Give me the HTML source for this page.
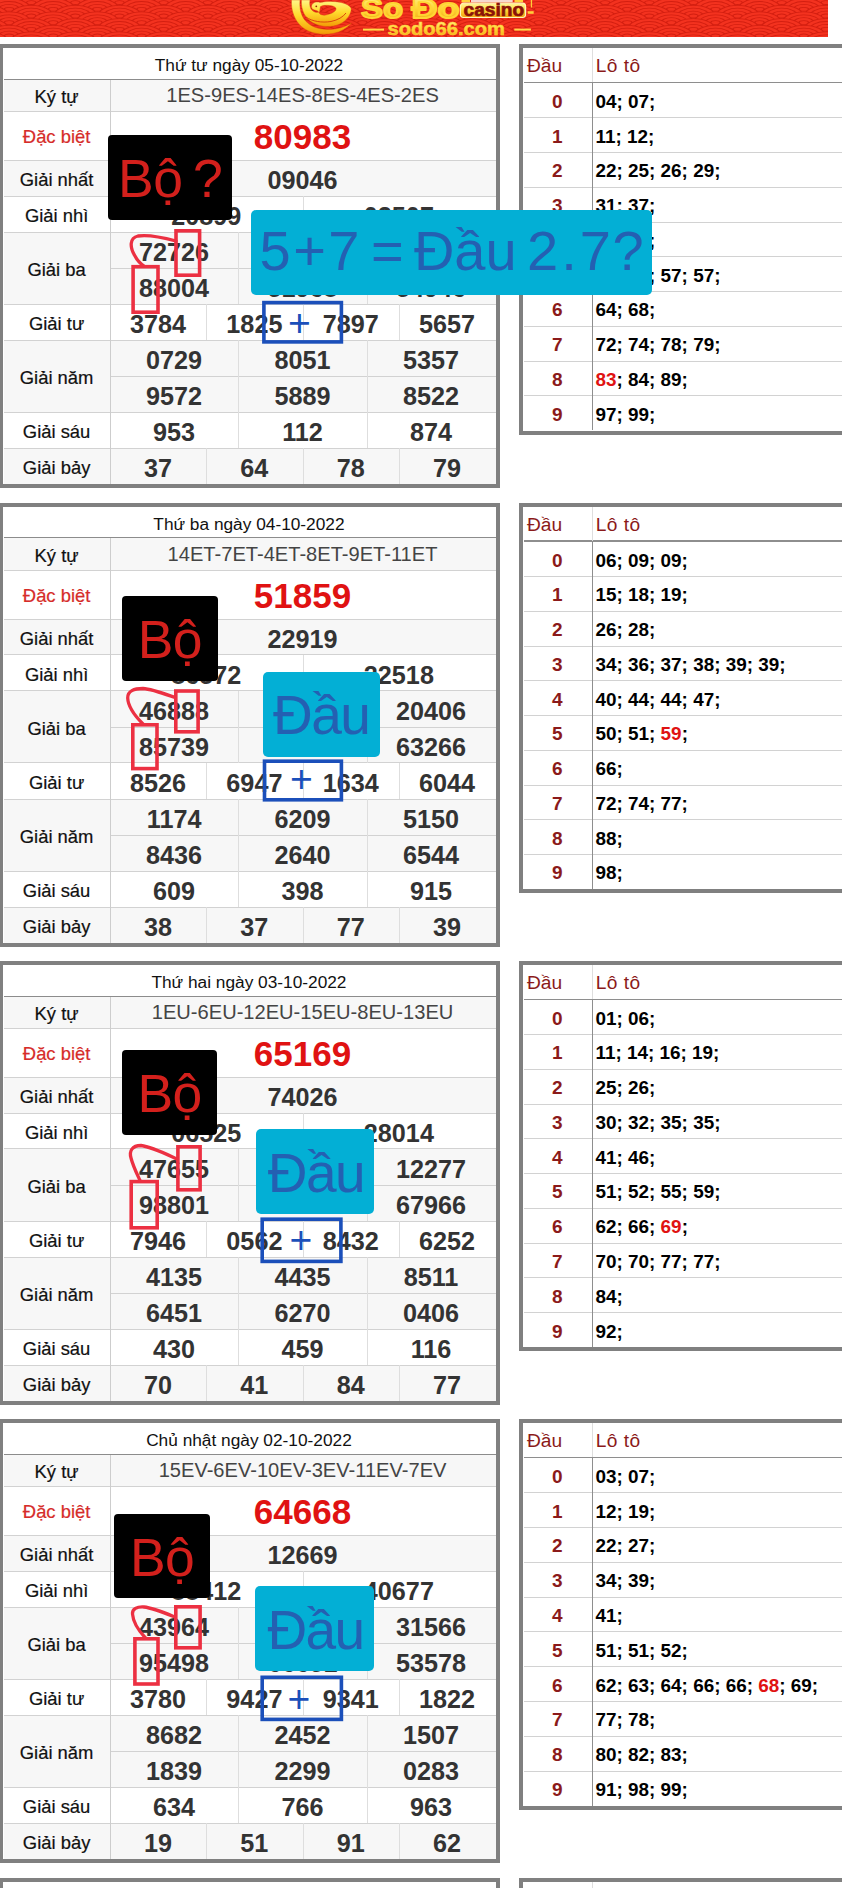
<!DOCTYPE html>
<html lang="vi"><head><meta charset="utf-8"><title>Kết quả xổ số</title>
<style>
html,body{margin:0;padding:0;background:#fff;}
body{font-family:"Liberation Sans",sans-serif;}
#pg{position:relative;width:842px;height:1888px;overflow:hidden;background:#fff;}
#pg div{position:absolute;box-sizing:border-box;white-space:nowrap;}
.fr{border:4px solid #808080;background:#fff;}
.bg{background:#f7f7f7;}
.hl{background:#d2d2d2;}
.vl{background:#dedede;}
.vl.lc{background:#cdcdcd;}
.hl.dk{background:#8c8c8c;}
.dk2{background:#8e8e8e;}
.c{text-align:center;}
.hd{font-size:17.3px;color:#111;}
.lb{font-size:18.4px;color:#111;-webkit-text-stroke:0.2px #111;}
.lb.red{color:#d62c29;-webkit-text-stroke:0.2px #d62c29;}
.kv{font-size:20.1px;color:#444;}
.dbv{font-size:35px;font-weight:bold;color:#e01212;}
.n{font-size:25.2px;font-weight:bold;color:#333;}
.lh{font-size:19.2px;color:#8b1a1a;}
.ld{font-size:19px;font-weight:bold;color:#8b1a1a;}
.lv{font-size:18.9px;font-weight:bold;color:#000;}
.r{color:#e01212;}
.bk{background:#000;border-radius:4px;color:#d3201c;font-size:53.5px;letter-spacing:-0.6px;word-spacing:-3.5px;text-align:center;}
.cy{background:#03afd5;border-radius:5px;color:#2460b2;font-size:55px;letter-spacing:-1.6px;text-align:center;}
.cy.w{font-size:56px;letter-spacing:0;text-align:left;}
.cy span{position:absolute;top:0;}
.bb{color:#1b4fba;font-size:39px;text-align:center;}
.cv{position:absolute;left:0;top:0;}

</style></head><body>
<div id="pg">
<svg class="bn" width="827.700" height="36.500" viewBox="0 0 827.700 36.500" style="position:absolute;left:0;top:0">
<defs>
<g id="sc"><ellipse rx="22.1" ry="11.0" fill="#d31f11"/><ellipse rx="20.7" ry="10.2" fill="#f3321f"/><ellipse rx="16.6" ry="8.1" fill="#d31f11"/><ellipse rx="15.2" ry="7.3" fill="#f3321f"/><ellipse rx="11.0" ry="5.2" fill="#d31f11"/><ellipse rx="9.6" ry="4.4" fill="#f3321f"/><ellipse rx="5.4" ry="2.3" fill="#d31f11"/><ellipse rx="4.0" ry="1.5" fill="#f3321f"/></g>
<linearGradient id="gd" x1="0" y1="0" x2="0" y2="1">
<stop offset="0" stop-color="#fff689"/><stop offset="0.45" stop-color="#ffdc2e"/><stop offset="1" stop-color="#f39a06"/>
</linearGradient>
<linearGradient id="gd2" x1="0" y1="0" x2="0" y2="1">
<stop offset="0" stop-color="#fff9a0"/><stop offset="0.5" stop-color="#ffd736"/><stop offset="1" stop-color="#f0a010"/>
</linearGradient>
</defs>
<rect width="827.700" height="36.500" fill="#f3321f"/>
<g><use href="#sc" x="-12.9" y="-10.7"/><use href="#sc" x="31.2" y="-10.7"/><use href="#sc" x="75.3" y="-10.7"/><use href="#sc" x="119.5" y="-10.7"/><use href="#sc" x="163.7" y="-10.7"/><use href="#sc" x="207.8" y="-10.7"/><use href="#sc" x="252.0" y="-10.7"/><use href="#sc" x="296.1" y="-10.7"/><use href="#sc" x="340.2" y="-10.7"/><use href="#sc" x="384.4" y="-10.7"/><use href="#sc" x="428.5" y="-10.7"/><use href="#sc" x="472.7" y="-10.7"/><use href="#sc" x="516.8" y="-10.7"/><use href="#sc" x="561.0" y="-10.7"/><use href="#sc" x="605.1" y="-10.7"/><use href="#sc" x="649.3" y="-10.7"/><use href="#sc" x="693.4" y="-10.7"/><use href="#sc" x="737.6" y="-10.7"/><use href="#sc" x="781.7" y="-10.7"/><use href="#sc" x="825.9" y="-10.7"/><use href="#sc" x="-35.0" y="-4.1"/><use href="#sc" x="9.1" y="-4.1"/><use href="#sc" x="53.2" y="-4.1"/><use href="#sc" x="97.4" y="-4.1"/><use href="#sc" x="141.6" y="-4.1"/><use href="#sc" x="185.7" y="-4.1"/><use href="#sc" x="229.9" y="-4.1"/><use href="#sc" x="274.0" y="-4.1"/><use href="#sc" x="318.1" y="-4.1"/><use href="#sc" x="362.3" y="-4.1"/><use href="#sc" x="406.4" y="-4.1"/><use href="#sc" x="450.6" y="-4.1"/><use href="#sc" x="494.7" y="-4.1"/><use href="#sc" x="538.9" y="-4.1"/><use href="#sc" x="583.0" y="-4.1"/><use href="#sc" x="627.2" y="-4.1"/><use href="#sc" x="671.3" y="-4.1"/><use href="#sc" x="715.5" y="-4.1"/><use href="#sc" x="759.6" y="-4.1"/><use href="#sc" x="803.8" y="-4.1"/><use href="#sc" x="847.9" y="-4.1"/><use href="#sc" x="-12.9" y="2.6"/><use href="#sc" x="31.2" y="2.6"/><use href="#sc" x="75.3" y="2.6"/><use href="#sc" x="119.5" y="2.6"/><use href="#sc" x="163.7" y="2.6"/><use href="#sc" x="207.8" y="2.6"/><use href="#sc" x="252.0" y="2.6"/><use href="#sc" x="296.1" y="2.6"/><use href="#sc" x="340.2" y="2.6"/><use href="#sc" x="384.4" y="2.6"/><use href="#sc" x="428.5" y="2.6"/><use href="#sc" x="472.7" y="2.6"/><use href="#sc" x="516.8" y="2.6"/><use href="#sc" x="561.0" y="2.6"/><use href="#sc" x="605.1" y="2.6"/><use href="#sc" x="649.3" y="2.6"/><use href="#sc" x="693.4" y="2.6"/><use href="#sc" x="737.6" y="2.6"/><use href="#sc" x="781.7" y="2.6"/><use href="#sc" x="825.9" y="2.6"/><use href="#sc" x="-35.0" y="9.2"/><use href="#sc" x="9.1" y="9.2"/><use href="#sc" x="53.2" y="9.2"/><use href="#sc" x="97.4" y="9.2"/><use href="#sc" x="141.6" y="9.2"/><use href="#sc" x="185.7" y="9.2"/><use href="#sc" x="229.9" y="9.2"/><use href="#sc" x="274.0" y="9.2"/><use href="#sc" x="318.1" y="9.2"/><use href="#sc" x="362.3" y="9.2"/><use href="#sc" x="406.4" y="9.2"/><use href="#sc" x="450.6" y="9.2"/><use href="#sc" x="494.7" y="9.2"/><use href="#sc" x="538.9" y="9.2"/><use href="#sc" x="583.0" y="9.2"/><use href="#sc" x="627.2" y="9.2"/><use href="#sc" x="671.3" y="9.2"/><use href="#sc" x="715.5" y="9.2"/><use href="#sc" x="759.6" y="9.2"/><use href="#sc" x="803.8" y="9.2"/><use href="#sc" x="847.9" y="9.2"/><use href="#sc" x="-12.9" y="15.9"/><use href="#sc" x="31.2" y="15.9"/><use href="#sc" x="75.3" y="15.9"/><use href="#sc" x="119.5" y="15.9"/><use href="#sc" x="163.7" y="15.9"/><use href="#sc" x="207.8" y="15.9"/><use href="#sc" x="252.0" y="15.9"/><use href="#sc" x="296.1" y="15.9"/><use href="#sc" x="340.2" y="15.9"/><use href="#sc" x="384.4" y="15.9"/><use href="#sc" x="428.5" y="15.9"/><use href="#sc" x="472.7" y="15.9"/><use href="#sc" x="516.8" y="15.9"/><use href="#sc" x="561.0" y="15.9"/><use href="#sc" x="605.1" y="15.9"/><use href="#sc" x="649.3" y="15.9"/><use href="#sc" x="693.4" y="15.9"/><use href="#sc" x="737.6" y="15.9"/><use href="#sc" x="781.7" y="15.9"/><use href="#sc" x="825.9" y="15.9"/><use href="#sc" x="-35.0" y="22.5"/><use href="#sc" x="9.1" y="22.5"/><use href="#sc" x="53.2" y="22.5"/><use href="#sc" x="97.4" y="22.5"/><use href="#sc" x="141.6" y="22.5"/><use href="#sc" x="185.7" y="22.5"/><use href="#sc" x="229.9" y="22.5"/><use href="#sc" x="274.0" y="22.5"/><use href="#sc" x="318.1" y="22.5"/><use href="#sc" x="362.3" y="22.5"/><use href="#sc" x="406.4" y="22.5"/><use href="#sc" x="450.6" y="22.5"/><use href="#sc" x="494.7" y="22.5"/><use href="#sc" x="538.9" y="22.5"/><use href="#sc" x="583.0" y="22.5"/><use href="#sc" x="627.2" y="22.5"/><use href="#sc" x="671.3" y="22.5"/><use href="#sc" x="715.5" y="22.5"/><use href="#sc" x="759.6" y="22.5"/><use href="#sc" x="803.8" y="22.5"/><use href="#sc" x="847.9" y="22.5"/><use href="#sc" x="-12.9" y="29.2"/><use href="#sc" x="31.2" y="29.2"/><use href="#sc" x="75.3" y="29.2"/><use href="#sc" x="119.5" y="29.2"/><use href="#sc" x="163.7" y="29.2"/><use href="#sc" x="207.8" y="29.2"/><use href="#sc" x="252.0" y="29.2"/><use href="#sc" x="296.1" y="29.2"/><use href="#sc" x="340.2" y="29.2"/><use href="#sc" x="384.4" y="29.2"/><use href="#sc" x="428.5" y="29.2"/><use href="#sc" x="472.7" y="29.2"/><use href="#sc" x="516.8" y="29.2"/><use href="#sc" x="561.0" y="29.2"/><use href="#sc" x="605.1" y="29.2"/><use href="#sc" x="649.3" y="29.2"/><use href="#sc" x="693.4" y="29.2"/><use href="#sc" x="737.6" y="29.2"/><use href="#sc" x="781.7" y="29.2"/><use href="#sc" x="825.9" y="29.2"/><use href="#sc" x="-35.0" y="35.9"/><use href="#sc" x="9.1" y="35.9"/><use href="#sc" x="53.2" y="35.9"/><use href="#sc" x="97.4" y="35.9"/><use href="#sc" x="141.6" y="35.9"/><use href="#sc" x="185.7" y="35.9"/><use href="#sc" x="229.9" y="35.9"/><use href="#sc" x="274.0" y="35.9"/><use href="#sc" x="318.1" y="35.9"/><use href="#sc" x="362.3" y="35.9"/><use href="#sc" x="406.4" y="35.9"/><use href="#sc" x="450.6" y="35.9"/><use href="#sc" x="494.7" y="35.9"/><use href="#sc" x="538.9" y="35.9"/><use href="#sc" x="583.0" y="35.9"/><use href="#sc" x="627.2" y="35.9"/><use href="#sc" x="671.3" y="35.9"/><use href="#sc" x="715.5" y="35.9"/><use href="#sc" x="759.6" y="35.9"/><use href="#sc" x="803.8" y="35.9"/><use href="#sc" x="847.9" y="35.9"/><use href="#sc" x="-12.9" y="42.5"/><use href="#sc" x="31.2" y="42.5"/><use href="#sc" x="75.3" y="42.5"/><use href="#sc" x="119.5" y="42.5"/><use href="#sc" x="163.7" y="42.5"/><use href="#sc" x="207.8" y="42.5"/><use href="#sc" x="252.0" y="42.5"/><use href="#sc" x="296.1" y="42.5"/><use href="#sc" x="340.2" y="42.5"/><use href="#sc" x="384.4" y="42.5"/><use href="#sc" x="428.5" y="42.5"/><use href="#sc" x="472.7" y="42.5"/><use href="#sc" x="516.8" y="42.5"/><use href="#sc" x="561.0" y="42.5"/><use href="#sc" x="605.1" y="42.5"/><use href="#sc" x="649.3" y="42.5"/><use href="#sc" x="693.4" y="42.5"/><use href="#sc" x="737.6" y="42.5"/><use href="#sc" x="781.7" y="42.5"/><use href="#sc" x="825.9" y="42.5"/><use href="#sc" x="-35.0" y="49.1"/><use href="#sc" x="9.1" y="49.1"/><use href="#sc" x="53.2" y="49.1"/><use href="#sc" x="97.4" y="49.1"/><use href="#sc" x="141.6" y="49.1"/><use href="#sc" x="185.7" y="49.1"/><use href="#sc" x="229.9" y="49.1"/><use href="#sc" x="274.0" y="49.1"/><use href="#sc" x="318.1" y="49.1"/><use href="#sc" x="362.3" y="49.1"/><use href="#sc" x="406.4" y="49.1"/><use href="#sc" x="450.6" y="49.1"/><use href="#sc" x="494.7" y="49.1"/><use href="#sc" x="538.9" y="49.1"/><use href="#sc" x="583.0" y="49.1"/><use href="#sc" x="627.2" y="49.1"/><use href="#sc" x="671.3" y="49.1"/><use href="#sc" x="715.5" y="49.1"/><use href="#sc" x="759.6" y="49.1"/><use href="#sc" x="803.8" y="49.1"/><use href="#sc" x="847.9" y="49.1"/></g>
<!-- phoenix swirl -->
<g fill="url(#gd)" stroke="#d8480c" stroke-width="0.4">
<path d="M291.500,0 C291,10 294,20 302,27 C310,33.500 322,35.500 333,33.500 C341,32 347,28 351.500,23 C345,27 337,29.500 328,29.500 C318,29.500 309,26 304,19 C300,13 299.500,6 300,0 Z"/>
<path fill-rule="evenodd" d="M301.500,0 C301,7 303,14 308,19 C313,24 321,27 330,26.500 C339,26 347,21 350,14 C351,11.500 351.500,9.500 351,8 C349.500,5.500 346,3.500 341,2.500 C334,1 326,1 320,2.500 C316,1 311.500,3 311.500,6.500 C311.500,9.500 314,10 316.500,10.500 C318,11 319,12 319.500,13.500 C320.500,15 323,15.500 326,15 C331,14 335,12 336,9.500 C336.500,7.500 334,6 330,5.500 C326,5 322,5.500 320.500,6.500 C320,8 320,10 319.500,12 C316,13 313,12 311,9 C309.500,6 309.500,3 310,0 Z"/>
</g>
<path d="M306,17 C312,21.500 322,23 331,21.500 C338,20 343,17 346,13" fill="none" stroke="#d8380c" stroke-width="0.9"/>
<circle cx="316.300" cy="6.300" r="0.900" fill="#a02008"/>
<!-- brand -->
<g font-family="'Liberation Sans',sans-serif" font-weight="bold">
<text x="361" y="17.600" font-size="28" fill="url(#gd2)" stroke="#ffd533" stroke-width="1.900" stroke-linejoin="round" textLength="42" lengthAdjust="spacingAndGlyphs">So</text>
<text x="411.500" y="17.600" font-size="28" fill="url(#gd2)" stroke="#ffd533" stroke-width="1.900" stroke-linejoin="round" textLength="48" lengthAdjust="spacingAndGlyphs">Đo</text>
<rect x="471" y="0" width="41.700" height="2.400" fill="#f7d9cf"/>
<rect x="461.500" y="0" width="8.500" height="2.300" fill="#ffd23a"/><rect x="514.500" y="0" width="8.500" height="2.300" fill="#ffd23a"/>
<rect x="527.700" y="11.200" width="6" height="2.600" fill="#ffcf3a"/><rect x="530.800" y="0" width="1.300" height="7.500" fill="#ffcf3a"/>
<rect x="460.400" y="3.200" width="65.200" height="14.300" rx="3.200" fill="url(#gd2)" stroke="#fff6b8" stroke-width="1.200"/>
<text x="463.600" y="16" font-size="19" fill="#8a1208" stroke="#8a1208" stroke-width="0.700" textLength="60.500" lengthAdjust="spacingAndGlyphs">casino</text>
<rect x="363" y="28.600" width="21" height="2" fill="#ffd84a"/>
<rect x="514.300" y="28.600" width="16.600" height="2" fill="#ffd84a"/>
<text x="387.500" y="34.800" font-size="19" fill="url(#gd2)" stroke="#ffd23a" stroke-width="0.500" textLength="117.500" lengthAdjust="spacingAndGlyphs">sodo66.com</text>
</g>
</svg>

<!-- day 1 -->
<div class="fr" style="left:-0.8px;top:44.3px;width:500.8px;height:444px;"></div>
<div class="bg" style="left:3.5px;top:79.3px;width:492.3px;height:32px;"></div>
<div class="bg" style="left:3.5px;top:160.3px;width:492.3px;height:36px;"></div>
<div class="bg" style="left:3.5px;top:448.3px;width:492.3px;height:36px;"></div>
<div class="bg" style="left:3.5px;top:232.3px;width:492.3px;height:72px;"></div>
<div class="bg" style="left:3.5px;top:340.3px;width:492.3px;height:72px;"></div>
<div class="hl dk" style="left:3.5px;top:78.7px;width:492.3px;height:1px;"></div>
<div class="hl" style="left:3.5px;top:111.3px;width:492.3px;height:1px;"></div>
<div class="hl" style="left:3.5px;top:159.9px;width:492.3px;height:1px;"></div>
<div class="hl" style="left:3.5px;top:195.7px;width:492.3px;height:1px;"></div>
<div class="hl" style="left:3.5px;top:231.6px;width:492.3px;height:1px;"></div>
<div class="hl" style="left:3.5px;top:303.7px;width:492.3px;height:1px;"></div>
<div class="hl" style="left:3.5px;top:339.8px;width:492.3px;height:1px;"></div>
<div class="hl" style="left:3.5px;top:411.8px;width:492.3px;height:1px;"></div>
<div class="hl" style="left:3.5px;top:448px;width:492.3px;height:1px;"></div>
<div class="hl" style="left:110.5px;top:267.8px;width:385.3px;height:1px;"></div>
<div class="hl" style="left:110.5px;top:376px;width:385.3px;height:1px;"></div>
<div class="vl lc" style="left:110.2px;top:79.7px;width:1px;height:404.6px;"></div>
<div class="c hd" style="left:2.8px;top:50.1px;width:492.3px;height:30.5px;line-height:30.5px;">Thứ tư ngày 05-10-2022</div>
<div class="c lb" style="left:3.1px;top:81.3px;width:107px;height:32px;line-height:32px;">Ký tự</div>
<div class="c lb red" style="left:3.1px;top:113.3px;width:107px;height:47.2px;line-height:47.2px;">Đặc biệt</div>
<div class="c lb" style="left:3.1px;top:162.3px;width:107px;height:36px;line-height:36px;">Giải nhất</div>
<div class="c lb" style="left:3.1px;top:198.3px;width:107px;height:36px;line-height:36px;">Giải nhì</div>
<div class="c lb" style="left:3.1px;top:234.3px;width:107px;height:72px;line-height:72px;">Giải ba</div>
<div class="c lb" style="left:3.1px;top:306.3px;width:107px;height:36px;line-height:36px;">Giải tư</div>
<div class="c lb" style="left:3.1px;top:342.3px;width:107px;height:72px;line-height:72px;">Giải năm</div>
<div class="c lb" style="left:3.1px;top:414.3px;width:107px;height:36px;line-height:36px;">Giải sáu</div>
<div class="c lb" style="left:3.1px;top:450.3px;width:107px;height:36px;line-height:36px;">Giải bảy</div>
<div class="c kv" style="left:109.9px;top:78.9px;width:385.3px;height:32px;line-height:32px;">1ES-9ES-14ES-8ES-4ES-2ES</div>
<div class="c dbv" style="left:109.8px;top:112.2px;width:385.3px;height:49px;line-height:49px;">80983</div>
<div class="c n" style="left:109.9px;top:161.9px;width:385.3px;height:36px;line-height:36px;">09046</div>
<div class="c n" style="left:109.9px;top:197.9px;width:192.65px;height:36px;line-height:36px;">20899</div>
<div class="c n" style="left:302.55px;top:197.9px;width:192.65px;height:36px;line-height:36px;">02507</div>
<div class="vl" style="left:302.65px;top:196.3px;width:1px;height:36px;"></div>
<div class="c n" style="left:109.9px;top:233.9px;width:128.43px;height:36px;line-height:36px;">72726</div>
<div class="c n" style="left:238.33px;top:233.9px;width:128.43px;height:36px;line-height:36px;">31311</div>
<div class="vl" style="left:238.43px;top:232.3px;width:1px;height:36px;"></div>
<div class="c n" style="left:366.77px;top:233.9px;width:128.43px;height:36px;line-height:36px;">94968</div>
<div class="vl" style="left:366.87px;top:232.3px;width:1px;height:36px;"></div>
<div class="c n" style="left:109.9px;top:269.9px;width:128.43px;height:36px;line-height:36px;">88004</div>
<div class="c n" style="left:238.33px;top:269.9px;width:128.43px;height:36px;line-height:36px;">51968</div>
<div class="vl" style="left:238.43px;top:268.3px;width:1px;height:36px;"></div>
<div class="c n" style="left:366.77px;top:269.9px;width:128.43px;height:36px;line-height:36px;">54946</div>
<div class="vl" style="left:366.87px;top:268.3px;width:1px;height:36px;"></div>
<div class="c n" style="left:109.9px;top:305.9px;width:96.33px;height:36px;line-height:36px;">3784</div>
<div class="c n" style="left:206.22px;top:305.9px;width:96.33px;height:36px;line-height:36px;">1825</div>
<div class="vl" style="left:206.32px;top:304.3px;width:1px;height:36px;"></div>
<div class="c n" style="left:302.55px;top:305.9px;width:96.33px;height:36px;line-height:36px;">7897</div>
<div class="vl" style="left:302.65px;top:304.3px;width:1px;height:36px;"></div>
<div class="c n" style="left:398.88px;top:305.9px;width:96.33px;height:36px;line-height:36px;">5657</div>
<div class="vl" style="left:398.98px;top:304.3px;width:1px;height:36px;"></div>
<div class="c n" style="left:109.9px;top:341.9px;width:128.43px;height:36px;line-height:36px;">0729</div>
<div class="c n" style="left:238.33px;top:341.9px;width:128.43px;height:36px;line-height:36px;">8051</div>
<div class="vl" style="left:238.43px;top:340.3px;width:1px;height:36px;"></div>
<div class="c n" style="left:366.77px;top:341.9px;width:128.43px;height:36px;line-height:36px;">5357</div>
<div class="vl" style="left:366.87px;top:340.3px;width:1px;height:36px;"></div>
<div class="c n" style="left:109.9px;top:377.9px;width:128.43px;height:36px;line-height:36px;">9572</div>
<div class="c n" style="left:238.33px;top:377.9px;width:128.43px;height:36px;line-height:36px;">5889</div>
<div class="vl" style="left:238.43px;top:376.3px;width:1px;height:36px;"></div>
<div class="c n" style="left:366.77px;top:377.9px;width:128.43px;height:36px;line-height:36px;">8522</div>
<div class="vl" style="left:366.87px;top:376.3px;width:1px;height:36px;"></div>
<div class="c n" style="left:109.9px;top:413.9px;width:128.43px;height:36px;line-height:36px;">953</div>
<div class="c n" style="left:238.33px;top:413.9px;width:128.43px;height:36px;line-height:36px;">112</div>
<div class="vl" style="left:238.43px;top:412.3px;width:1px;height:36px;"></div>
<div class="c n" style="left:366.77px;top:413.9px;width:128.43px;height:36px;line-height:36px;">874</div>
<div class="vl" style="left:366.87px;top:412.3px;width:1px;height:36px;"></div>
<div class="c n" style="left:109.9px;top:449.9px;width:96.33px;height:36px;line-height:36px;">37</div>
<div class="c n" style="left:206.22px;top:449.9px;width:96.33px;height:36px;line-height:36px;">64</div>
<div class="vl" style="left:206.32px;top:448.3px;width:1px;height:36px;"></div>
<div class="c n" style="left:302.55px;top:449.9px;width:96.33px;height:36px;line-height:36px;">78</div>
<div class="vl" style="left:302.65px;top:448.3px;width:1px;height:36px;"></div>
<div class="c n" style="left:398.88px;top:449.9px;width:96.33px;height:36px;line-height:36px;">79</div>
<div class="vl" style="left:398.98px;top:448.3px;width:1px;height:36px;"></div>
<div class="fr" style="left:519.2px;top:44.3px;width:340px;height:390.4px;"></div>
<div class="hl dk2" style="left:523.5px;top:81.7px;width:330px;height:1.4px;"></div>
<div class="hl" style="left:523.5px;top:117.27px;width:330px;height:1px;"></div>
<div class="hl" style="left:523.5px;top:152.04px;width:330px;height:1px;"></div>
<div class="hl" style="left:523.5px;top:186.81px;width:330px;height:1px;"></div>
<div class="hl" style="left:523.5px;top:221.58px;width:330px;height:1px;"></div>
<div class="hl" style="left:523.5px;top:256.35px;width:330px;height:1px;"></div>
<div class="hl" style="left:523.5px;top:291.12px;width:330px;height:1px;"></div>
<div class="hl" style="left:523.5px;top:325.89px;width:330px;height:1px;"></div>
<div class="hl" style="left:523.5px;top:360.66px;width:330px;height:1px;"></div>
<div class="hl" style="left:523.5px;top:395.43px;width:330px;height:1px;"></div>
<div class="vl" style="left:592.2px;top:48.3px;width:1px;height:34px;"></div>
<div class="vl dk2" style="left:592px;top:82.3px;width:1.4px;height:348.2px;"></div>
<div class="lh" style="left:527px;top:47.9px;width:60px;height:34px;line-height:36px;">Đầu</div>
<div class="lh" style="left:595.7px;top:47.9px;width:200px;height:34px;line-height:36px;letter-spacing:0.45px;">Lô tô</div>
<div class="c ld" style="left:522.8px;top:83.8px;width:69.2px;height:34.77px;line-height:35.77px;">0</div>
<div class="lv" style="left:595.5px;top:83.8px;width:247px;height:34.77px;line-height:35.77px;">04; 07;</div>
<div class="c ld" style="left:522.8px;top:118.57px;width:69.2px;height:34.77px;line-height:35.77px;">1</div>
<div class="lv" style="left:595.5px;top:118.57px;width:247px;height:34.77px;line-height:35.77px;">11; 12;</div>
<div class="c ld" style="left:522.8px;top:153.34px;width:69.2px;height:34.77px;line-height:35.77px;">2</div>
<div class="lv" style="left:595.5px;top:153.34px;width:247px;height:34.77px;line-height:35.77px;">22; 25; 26; 29;</div>
<div class="c ld" style="left:522.8px;top:188.11px;width:69.2px;height:34.77px;line-height:35.77px;">3</div>
<div class="lv" style="left:595.5px;top:188.11px;width:247px;height:34.77px;line-height:35.77px;">31; 37;</div>
<div class="c ld" style="left:522.8px;top:222.88px;width:69.2px;height:34.77px;line-height:35.77px;">4</div>
<div class="lv" style="left:595.5px;top:222.88px;width:247px;height:34.77px;line-height:35.77px;">46; 46;</div>
<div class="c ld" style="left:522.8px;top:257.65px;width:69.2px;height:34.77px;line-height:35.77px;">5</div>
<div class="lv" style="left:595.5px;top:257.65px;width:247px;height:34.77px;line-height:35.77px;">51; 53; 57; 57;</div>
<div class="c ld" style="left:522.8px;top:292.42px;width:69.2px;height:34.77px;line-height:35.77px;">6</div>
<div class="lv" style="left:595.5px;top:292.42px;width:247px;height:34.77px;line-height:35.77px;">64; 68;</div>
<div class="c ld" style="left:522.8px;top:327.19px;width:69.2px;height:34.77px;line-height:35.77px;">7</div>
<div class="lv" style="left:595.5px;top:327.19px;width:247px;height:34.77px;line-height:35.77px;">72; 74; 78; 79;</div>
<div class="c ld" style="left:522.8px;top:361.96px;width:69.2px;height:34.77px;line-height:35.77px;">8</div>
<div class="lv" style="left:595.5px;top:361.96px;width:247px;height:34.77px;line-height:35.77px;"><b class=r>83</b>; 84; 89;</div>
<div class="c ld" style="left:522.8px;top:396.73px;width:69.2px;height:34.77px;line-height:35.77px;">9</div>
<div class="lv" style="left:595.5px;top:396.73px;width:247px;height:34.77px;line-height:35.77px;">97; 99;</div>
<div class="bk" style="left:108px;top:135.4px;width:124.3px;height:84.8px;line-height:88.4px;">Bộ ?</div>
<div class="cy w" style="left:250.6px;top:210.3px;width:401px;height:84.7px;line-height:81.7px;"><span style="left:9px;letter-spacing:2.4px">5+7</span> <span style="left:120.5px;letter-spacing:0px">=</span> <span style="left:163.3px;letter-spacing:0px">Đầu</span> <span style="left:276.5px;letter-spacing:3px">2.7</span> <span style="left:361.8px;letter-spacing:0px">?</span></div>
<div class="bb" style="left:262.1px;top:300.8px;width:81.1px;height:42.9px;line-height:44.6px;text-indent:-6.6px;">+</div>
<!-- day 2 -->
<div class="fr" style="left:-0.8px;top:503px;width:500.8px;height:444px;"></div>
<div class="bg" style="left:3.5px;top:538px;width:492.3px;height:32px;"></div>
<div class="bg" style="left:3.5px;top:619px;width:492.3px;height:36px;"></div>
<div class="bg" style="left:3.5px;top:907px;width:492.3px;height:36px;"></div>
<div class="bg" style="left:3.5px;top:691px;width:492.3px;height:72px;"></div>
<div class="bg" style="left:3.5px;top:799px;width:492.3px;height:72px;"></div>
<div class="hl dk" style="left:3.5px;top:537.4px;width:492.3px;height:1px;"></div>
<div class="hl" style="left:3.5px;top:570px;width:492.3px;height:1px;"></div>
<div class="hl" style="left:3.5px;top:618.6px;width:492.3px;height:1px;"></div>
<div class="hl" style="left:3.5px;top:654.4px;width:492.3px;height:1px;"></div>
<div class="hl" style="left:3.5px;top:690.3px;width:492.3px;height:1px;"></div>
<div class="hl" style="left:3.5px;top:762.4px;width:492.3px;height:1px;"></div>
<div class="hl" style="left:3.5px;top:798.5px;width:492.3px;height:1px;"></div>
<div class="hl" style="left:3.5px;top:870.5px;width:492.3px;height:1px;"></div>
<div class="hl" style="left:3.5px;top:906.7px;width:492.3px;height:1px;"></div>
<div class="hl" style="left:110.5px;top:726.5px;width:385.3px;height:1px;"></div>
<div class="hl" style="left:110.5px;top:834.7px;width:385.3px;height:1px;"></div>
<div class="vl lc" style="left:110.2px;top:538.4px;width:1px;height:404.6px;"></div>
<div class="c hd" style="left:2.8px;top:508.8px;width:492.3px;height:30.5px;line-height:30.5px;">Thứ ba ngày 04-10-2022</div>
<div class="c lb" style="left:3.1px;top:540px;width:107px;height:32px;line-height:32px;">Ký tự</div>
<div class="c lb red" style="left:3.1px;top:572px;width:107px;height:47.2px;line-height:47.2px;">Đặc biệt</div>
<div class="c lb" style="left:3.1px;top:621px;width:107px;height:36px;line-height:36px;">Giải nhất</div>
<div class="c lb" style="left:3.1px;top:657px;width:107px;height:36px;line-height:36px;">Giải nhì</div>
<div class="c lb" style="left:3.1px;top:693px;width:107px;height:72px;line-height:72px;">Giải ba</div>
<div class="c lb" style="left:3.1px;top:765px;width:107px;height:36px;line-height:36px;">Giải tư</div>
<div class="c lb" style="left:3.1px;top:801px;width:107px;height:72px;line-height:72px;">Giải năm</div>
<div class="c lb" style="left:3.1px;top:873px;width:107px;height:36px;line-height:36px;">Giải sáu</div>
<div class="c lb" style="left:3.1px;top:909px;width:107px;height:36px;line-height:36px;">Giải bảy</div>
<div class="c kv" style="left:109.9px;top:537.6px;width:385.3px;height:32px;line-height:32px;">14ET-7ET-4ET-8ET-9ET-11ET</div>
<div class="c dbv" style="left:109.8px;top:570.9px;width:385.3px;height:49px;line-height:49px;">51859</div>
<div class="c n" style="left:109.9px;top:620.6px;width:385.3px;height:36px;line-height:36px;">22919</div>
<div class="c n" style="left:109.9px;top:656.6px;width:192.65px;height:36px;line-height:36px;">86572</div>
<div class="c n" style="left:302.55px;top:656.6px;width:192.65px;height:36px;line-height:36px;">22518</div>
<div class="vl" style="left:302.65px;top:655px;width:1px;height:36px;"></div>
<div class="c n" style="left:109.9px;top:692.6px;width:128.43px;height:36px;line-height:36px;">46888</div>
<div class="c n" style="left:238.33px;top:692.6px;width:128.43px;height:36px;line-height:36px;">73128</div>
<div class="vl" style="left:238.43px;top:691px;width:1px;height:36px;"></div>
<div class="c n" style="left:366.77px;top:692.6px;width:128.43px;height:36px;line-height:36px;">20406</div>
<div class="vl" style="left:366.87px;top:691px;width:1px;height:36px;"></div>
<div class="c n" style="left:109.9px;top:728.6px;width:128.43px;height:36px;line-height:36px;">85739</div>
<div class="c n" style="left:238.33px;top:728.6px;width:128.43px;height:36px;line-height:36px;">40251</div>
<div class="vl" style="left:238.43px;top:727px;width:1px;height:36px;"></div>
<div class="c n" style="left:366.77px;top:728.6px;width:128.43px;height:36px;line-height:36px;">63266</div>
<div class="vl" style="left:366.87px;top:727px;width:1px;height:36px;"></div>
<div class="c n" style="left:109.9px;top:764.6px;width:96.33px;height:36px;line-height:36px;">8526</div>
<div class="c n" style="left:206.22px;top:764.6px;width:96.33px;height:36px;line-height:36px;">6947</div>
<div class="vl" style="left:206.32px;top:763px;width:1px;height:36px;"></div>
<div class="c n" style="left:302.55px;top:764.6px;width:96.33px;height:36px;line-height:36px;">1634</div>
<div class="vl" style="left:302.65px;top:763px;width:1px;height:36px;"></div>
<div class="c n" style="left:398.88px;top:764.6px;width:96.33px;height:36px;line-height:36px;">6044</div>
<div class="vl" style="left:398.98px;top:763px;width:1px;height:36px;"></div>
<div class="c n" style="left:109.9px;top:800.6px;width:128.43px;height:36px;line-height:36px;">1174</div>
<div class="c n" style="left:238.33px;top:800.6px;width:128.43px;height:36px;line-height:36px;">6209</div>
<div class="vl" style="left:238.43px;top:799px;width:1px;height:36px;"></div>
<div class="c n" style="left:366.77px;top:800.6px;width:128.43px;height:36px;line-height:36px;">5150</div>
<div class="vl" style="left:366.87px;top:799px;width:1px;height:36px;"></div>
<div class="c n" style="left:109.9px;top:836.6px;width:128.43px;height:36px;line-height:36px;">8436</div>
<div class="c n" style="left:238.33px;top:836.6px;width:128.43px;height:36px;line-height:36px;">2640</div>
<div class="vl" style="left:238.43px;top:835px;width:1px;height:36px;"></div>
<div class="c n" style="left:366.77px;top:836.6px;width:128.43px;height:36px;line-height:36px;">6544</div>
<div class="vl" style="left:366.87px;top:835px;width:1px;height:36px;"></div>
<div class="c n" style="left:109.9px;top:872.6px;width:128.43px;height:36px;line-height:36px;">609</div>
<div class="c n" style="left:238.33px;top:872.6px;width:128.43px;height:36px;line-height:36px;">398</div>
<div class="vl" style="left:238.43px;top:871px;width:1px;height:36px;"></div>
<div class="c n" style="left:366.77px;top:872.6px;width:128.43px;height:36px;line-height:36px;">915</div>
<div class="vl" style="left:366.87px;top:871px;width:1px;height:36px;"></div>
<div class="c n" style="left:109.9px;top:908.6px;width:96.33px;height:36px;line-height:36px;">38</div>
<div class="c n" style="left:206.22px;top:908.6px;width:96.33px;height:36px;line-height:36px;">37</div>
<div class="vl" style="left:206.32px;top:907px;width:1px;height:36px;"></div>
<div class="c n" style="left:302.55px;top:908.6px;width:96.33px;height:36px;line-height:36px;">77</div>
<div class="vl" style="left:302.65px;top:907px;width:1px;height:36px;"></div>
<div class="c n" style="left:398.88px;top:908.6px;width:96.33px;height:36px;line-height:36px;">39</div>
<div class="vl" style="left:398.98px;top:907px;width:1px;height:36px;"></div>
<div class="fr" style="left:519.2px;top:503px;width:340px;height:390.4px;"></div>
<div class="hl dk2" style="left:523.5px;top:540.4px;width:330px;height:1.4px;"></div>
<div class="hl" style="left:523.5px;top:575.97px;width:330px;height:1px;"></div>
<div class="hl" style="left:523.5px;top:610.74px;width:330px;height:1px;"></div>
<div class="hl" style="left:523.5px;top:645.51px;width:330px;height:1px;"></div>
<div class="hl" style="left:523.5px;top:680.28px;width:330px;height:1px;"></div>
<div class="hl" style="left:523.5px;top:715.05px;width:330px;height:1px;"></div>
<div class="hl" style="left:523.5px;top:749.82px;width:330px;height:1px;"></div>
<div class="hl" style="left:523.5px;top:784.59px;width:330px;height:1px;"></div>
<div class="hl" style="left:523.5px;top:819.36px;width:330px;height:1px;"></div>
<div class="hl" style="left:523.5px;top:854.13px;width:330px;height:1px;"></div>
<div class="vl" style="left:592.2px;top:507px;width:1px;height:34px;"></div>
<div class="vl dk2" style="left:592px;top:541px;width:1.4px;height:348.2px;"></div>
<div class="lh" style="left:527px;top:506.6px;width:60px;height:34px;line-height:36px;">Đầu</div>
<div class="lh" style="left:595.7px;top:506.6px;width:200px;height:34px;line-height:36px;letter-spacing:0.45px;">Lô tô</div>
<div class="c ld" style="left:522.8px;top:542.5px;width:69.2px;height:34.77px;line-height:35.77px;">0</div>
<div class="lv" style="left:595.5px;top:542.5px;width:247px;height:34.77px;line-height:35.77px;">06; 09; 09;</div>
<div class="c ld" style="left:522.8px;top:577.27px;width:69.2px;height:34.77px;line-height:35.77px;">1</div>
<div class="lv" style="left:595.5px;top:577.27px;width:247px;height:34.77px;line-height:35.77px;">15; 18; 19;</div>
<div class="c ld" style="left:522.8px;top:612.04px;width:69.2px;height:34.77px;line-height:35.77px;">2</div>
<div class="lv" style="left:595.5px;top:612.04px;width:247px;height:34.77px;line-height:35.77px;">26; 28;</div>
<div class="c ld" style="left:522.8px;top:646.81px;width:69.2px;height:34.77px;line-height:35.77px;">3</div>
<div class="lv" style="left:595.5px;top:646.81px;width:247px;height:34.77px;line-height:35.77px;">34; 36; 37; 38; 39; 39;</div>
<div class="c ld" style="left:522.8px;top:681.58px;width:69.2px;height:34.77px;line-height:35.77px;">4</div>
<div class="lv" style="left:595.5px;top:681.58px;width:247px;height:34.77px;line-height:35.77px;">40; 44; 44; 47;</div>
<div class="c ld" style="left:522.8px;top:716.35px;width:69.2px;height:34.77px;line-height:35.77px;">5</div>
<div class="lv" style="left:595.5px;top:716.35px;width:247px;height:34.77px;line-height:35.77px;">50; 51; <b class=r>59</b>;</div>
<div class="c ld" style="left:522.8px;top:751.12px;width:69.2px;height:34.77px;line-height:35.77px;">6</div>
<div class="lv" style="left:595.5px;top:751.12px;width:247px;height:34.77px;line-height:35.77px;">66;</div>
<div class="c ld" style="left:522.8px;top:785.89px;width:69.2px;height:34.77px;line-height:35.77px;">7</div>
<div class="lv" style="left:595.5px;top:785.89px;width:247px;height:34.77px;line-height:35.77px;">72; 74; 77;</div>
<div class="c ld" style="left:522.8px;top:820.66px;width:69.2px;height:34.77px;line-height:35.77px;">8</div>
<div class="lv" style="left:595.5px;top:820.66px;width:247px;height:34.77px;line-height:35.77px;">88;</div>
<div class="c ld" style="left:522.8px;top:855.43px;width:69.2px;height:34.77px;line-height:35.77px;">9</div>
<div class="lv" style="left:595.5px;top:855.43px;width:247px;height:34.77px;line-height:35.77px;">98;</div>
<div class="bk" style="left:122px;top:596px;width:95.8px;height:84.7px;line-height:88.3px;">Bộ</div>
<div class="cy" style="left:262.7px;top:672.4px;width:117.8px;height:84.3px;line-height:87.9px;text-indent:-1px;">Đầu</div>
<div class="bb" style="left:262.7px;top:759.4px;width:80.5px;height:42.2px;line-height:39.8px;text-indent:-3.2px;">+</div>
<!-- day 3 -->
<div class="fr" style="left:-0.8px;top:961.1px;width:500.8px;height:444px;"></div>
<div class="bg" style="left:3.5px;top:996.1px;width:492.3px;height:32px;"></div>
<div class="bg" style="left:3.5px;top:1077.1px;width:492.3px;height:36px;"></div>
<div class="bg" style="left:3.5px;top:1365.1px;width:492.3px;height:36px;"></div>
<div class="bg" style="left:3.5px;top:1149.1px;width:492.3px;height:72px;"></div>
<div class="bg" style="left:3.5px;top:1257.1px;width:492.3px;height:72px;"></div>
<div class="hl dk" style="left:3.5px;top:995.5px;width:492.3px;height:1px;"></div>
<div class="hl" style="left:3.5px;top:1028.1px;width:492.3px;height:1px;"></div>
<div class="hl" style="left:3.5px;top:1076.7px;width:492.3px;height:1px;"></div>
<div class="hl" style="left:3.5px;top:1112.5px;width:492.3px;height:1px;"></div>
<div class="hl" style="left:3.5px;top:1148.4px;width:492.3px;height:1px;"></div>
<div class="hl" style="left:3.5px;top:1220.5px;width:492.3px;height:1px;"></div>
<div class="hl" style="left:3.5px;top:1256.6px;width:492.3px;height:1px;"></div>
<div class="hl" style="left:3.5px;top:1328.6px;width:492.3px;height:1px;"></div>
<div class="hl" style="left:3.5px;top:1364.8px;width:492.3px;height:1px;"></div>
<div class="hl" style="left:110.5px;top:1184.6px;width:385.3px;height:1px;"></div>
<div class="hl" style="left:110.5px;top:1292.8px;width:385.3px;height:1px;"></div>
<div class="vl lc" style="left:110.2px;top:996.5px;width:1px;height:404.6px;"></div>
<div class="c hd" style="left:2.8px;top:966.9px;width:492.3px;height:30.5px;line-height:30.5px;">Thứ hai ngày 03-10-2022</div>
<div class="c lb" style="left:3.1px;top:998.1px;width:107px;height:32px;line-height:32px;">Ký tự</div>
<div class="c lb red" style="left:3.1px;top:1030.1px;width:107px;height:47.2px;line-height:47.2px;">Đặc biệt</div>
<div class="c lb" style="left:3.1px;top:1079.1px;width:107px;height:36px;line-height:36px;">Giải nhất</div>
<div class="c lb" style="left:3.1px;top:1115.1px;width:107px;height:36px;line-height:36px;">Giải nhì</div>
<div class="c lb" style="left:3.1px;top:1151.1px;width:107px;height:72px;line-height:72px;">Giải ba</div>
<div class="c lb" style="left:3.1px;top:1223.1px;width:107px;height:36px;line-height:36px;">Giải tư</div>
<div class="c lb" style="left:3.1px;top:1259.1px;width:107px;height:72px;line-height:72px;">Giải năm</div>
<div class="c lb" style="left:3.1px;top:1331.1px;width:107px;height:36px;line-height:36px;">Giải sáu</div>
<div class="c lb" style="left:3.1px;top:1367.1px;width:107px;height:36px;line-height:36px;">Giải bảy</div>
<div class="c kv" style="left:109.9px;top:995.7px;width:385.3px;height:32px;line-height:32px;">1EU-6EU-12EU-15EU-8EU-13EU</div>
<div class="c dbv" style="left:109.8px;top:1029px;width:385.3px;height:49px;line-height:49px;">65169</div>
<div class="c n" style="left:109.9px;top:1078.7px;width:385.3px;height:36px;line-height:36px;">74026</div>
<div class="c n" style="left:109.9px;top:1114.7px;width:192.65px;height:36px;line-height:36px;">06525</div>
<div class="c n" style="left:302.55px;top:1114.7px;width:192.65px;height:36px;line-height:36px;">28014</div>
<div class="vl" style="left:302.65px;top:1113.1px;width:1px;height:36px;"></div>
<div class="c n" style="left:109.9px;top:1150.7px;width:128.43px;height:36px;line-height:36px;">47655</div>
<div class="c n" style="left:238.33px;top:1150.7px;width:128.43px;height:36px;line-height:36px;">30719</div>
<div class="vl" style="left:238.43px;top:1149.1px;width:1px;height:36px;"></div>
<div class="c n" style="left:366.77px;top:1150.7px;width:128.43px;height:36px;line-height:36px;">12277</div>
<div class="vl" style="left:366.87px;top:1149.1px;width:1px;height:36px;"></div>
<div class="c n" style="left:109.9px;top:1186.7px;width:128.43px;height:36px;line-height:36px;">98801</div>
<div class="c n" style="left:238.33px;top:1186.7px;width:128.43px;height:36px;line-height:36px;">51592</div>
<div class="vl" style="left:238.43px;top:1185.1px;width:1px;height:36px;"></div>
<div class="c n" style="left:366.77px;top:1186.7px;width:128.43px;height:36px;line-height:36px;">67966</div>
<div class="vl" style="left:366.87px;top:1185.1px;width:1px;height:36px;"></div>
<div class="c n" style="left:109.9px;top:1222.7px;width:96.33px;height:36px;line-height:36px;">7946</div>
<div class="c n" style="left:206.22px;top:1222.7px;width:96.33px;height:36px;line-height:36px;">0562</div>
<div class="vl" style="left:206.32px;top:1221.1px;width:1px;height:36px;"></div>
<div class="c n" style="left:302.55px;top:1222.7px;width:96.33px;height:36px;line-height:36px;">8432</div>
<div class="vl" style="left:302.65px;top:1221.1px;width:1px;height:36px;"></div>
<div class="c n" style="left:398.88px;top:1222.7px;width:96.33px;height:36px;line-height:36px;">6252</div>
<div class="vl" style="left:398.98px;top:1221.1px;width:1px;height:36px;"></div>
<div class="c n" style="left:109.9px;top:1258.7px;width:128.43px;height:36px;line-height:36px;">4135</div>
<div class="c n" style="left:238.33px;top:1258.7px;width:128.43px;height:36px;line-height:36px;">4435</div>
<div class="vl" style="left:238.43px;top:1257.1px;width:1px;height:36px;"></div>
<div class="c n" style="left:366.77px;top:1258.7px;width:128.43px;height:36px;line-height:36px;">8511</div>
<div class="vl" style="left:366.87px;top:1257.1px;width:1px;height:36px;"></div>
<div class="c n" style="left:109.9px;top:1294.7px;width:128.43px;height:36px;line-height:36px;">6451</div>
<div class="c n" style="left:238.33px;top:1294.7px;width:128.43px;height:36px;line-height:36px;">6270</div>
<div class="vl" style="left:238.43px;top:1293.1px;width:1px;height:36px;"></div>
<div class="c n" style="left:366.77px;top:1294.7px;width:128.43px;height:36px;line-height:36px;">0406</div>
<div class="vl" style="left:366.87px;top:1293.1px;width:1px;height:36px;"></div>
<div class="c n" style="left:109.9px;top:1330.7px;width:128.43px;height:36px;line-height:36px;">430</div>
<div class="c n" style="left:238.33px;top:1330.7px;width:128.43px;height:36px;line-height:36px;">459</div>
<div class="vl" style="left:238.43px;top:1329.1px;width:1px;height:36px;"></div>
<div class="c n" style="left:366.77px;top:1330.7px;width:128.43px;height:36px;line-height:36px;">116</div>
<div class="vl" style="left:366.87px;top:1329.1px;width:1px;height:36px;"></div>
<div class="c n" style="left:109.9px;top:1366.7px;width:96.33px;height:36px;line-height:36px;">70</div>
<div class="c n" style="left:206.22px;top:1366.7px;width:96.33px;height:36px;line-height:36px;">41</div>
<div class="vl" style="left:206.32px;top:1365.1px;width:1px;height:36px;"></div>
<div class="c n" style="left:302.55px;top:1366.7px;width:96.33px;height:36px;line-height:36px;">84</div>
<div class="vl" style="left:302.65px;top:1365.1px;width:1px;height:36px;"></div>
<div class="c n" style="left:398.88px;top:1366.7px;width:96.33px;height:36px;line-height:36px;">77</div>
<div class="vl" style="left:398.98px;top:1365.1px;width:1px;height:36px;"></div>
<div class="fr" style="left:519.2px;top:961.1px;width:340px;height:390.4px;"></div>
<div class="hl dk2" style="left:523.5px;top:998.5px;width:330px;height:1.4px;"></div>
<div class="hl" style="left:523.5px;top:1034.07px;width:330px;height:1px;"></div>
<div class="hl" style="left:523.5px;top:1068.84px;width:330px;height:1px;"></div>
<div class="hl" style="left:523.5px;top:1103.61px;width:330px;height:1px;"></div>
<div class="hl" style="left:523.5px;top:1138.38px;width:330px;height:1px;"></div>
<div class="hl" style="left:523.5px;top:1173.15px;width:330px;height:1px;"></div>
<div class="hl" style="left:523.5px;top:1207.92px;width:330px;height:1px;"></div>
<div class="hl" style="left:523.5px;top:1242.69px;width:330px;height:1px;"></div>
<div class="hl" style="left:523.5px;top:1277.46px;width:330px;height:1px;"></div>
<div class="hl" style="left:523.5px;top:1312.23px;width:330px;height:1px;"></div>
<div class="vl" style="left:592.2px;top:965.1px;width:1px;height:34px;"></div>
<div class="vl dk2" style="left:592px;top:999.1px;width:1.4px;height:348.2px;"></div>
<div class="lh" style="left:527px;top:964.7px;width:60px;height:34px;line-height:36px;">Đầu</div>
<div class="lh" style="left:595.7px;top:964.7px;width:200px;height:34px;line-height:36px;letter-spacing:0.45px;">Lô tô</div>
<div class="c ld" style="left:522.8px;top:1000.6px;width:69.2px;height:34.77px;line-height:35.77px;">0</div>
<div class="lv" style="left:595.5px;top:1000.6px;width:247px;height:34.77px;line-height:35.77px;">01; 06;</div>
<div class="c ld" style="left:522.8px;top:1035.37px;width:69.2px;height:34.77px;line-height:35.77px;">1</div>
<div class="lv" style="left:595.5px;top:1035.37px;width:247px;height:34.77px;line-height:35.77px;">11; 14; 16; 19;</div>
<div class="c ld" style="left:522.8px;top:1070.14px;width:69.2px;height:34.77px;line-height:35.77px;">2</div>
<div class="lv" style="left:595.5px;top:1070.14px;width:247px;height:34.77px;line-height:35.77px;">25; 26;</div>
<div class="c ld" style="left:522.8px;top:1104.91px;width:69.2px;height:34.77px;line-height:35.77px;">3</div>
<div class="lv" style="left:595.5px;top:1104.91px;width:247px;height:34.77px;line-height:35.77px;">30; 32; 35; 35;</div>
<div class="c ld" style="left:522.8px;top:1139.68px;width:69.2px;height:34.77px;line-height:35.77px;">4</div>
<div class="lv" style="left:595.5px;top:1139.68px;width:247px;height:34.77px;line-height:35.77px;">41; 46;</div>
<div class="c ld" style="left:522.8px;top:1174.45px;width:69.2px;height:34.77px;line-height:35.77px;">5</div>
<div class="lv" style="left:595.5px;top:1174.45px;width:247px;height:34.77px;line-height:35.77px;">51; 52; 55; 59;</div>
<div class="c ld" style="left:522.8px;top:1209.22px;width:69.2px;height:34.77px;line-height:35.77px;">6</div>
<div class="lv" style="left:595.5px;top:1209.22px;width:247px;height:34.77px;line-height:35.77px;">62; 66; <b class=r>69</b>;</div>
<div class="c ld" style="left:522.8px;top:1243.99px;width:69.2px;height:34.77px;line-height:35.77px;">7</div>
<div class="lv" style="left:595.5px;top:1243.99px;width:247px;height:34.77px;line-height:35.77px;">70; 70; 77; 77;</div>
<div class="c ld" style="left:522.8px;top:1278.76px;width:69.2px;height:34.77px;line-height:35.77px;">8</div>
<div class="lv" style="left:595.5px;top:1278.76px;width:247px;height:34.77px;line-height:35.77px;">84;</div>
<div class="c ld" style="left:522.8px;top:1313.53px;width:69.2px;height:34.77px;line-height:35.77px;">9</div>
<div class="lv" style="left:595.5px;top:1313.53px;width:247px;height:34.77px;line-height:35.77px;">92;</div>
<div class="bk" style="left:122px;top:1050.2px;width:95px;height:84.8px;line-height:88.4px;">Bộ</div>
<div class="cy" style="left:255.8px;top:1128.9px;width:117.9px;height:84.7px;line-height:88.3px;text-indent:2.2px;">Đầu</div>
<div class="bb" style="left:260.4px;top:1217.4px;width:82.3px;height:45.8px;line-height:45.4px;text-indent:-1.5px;">+</div>
<!-- day 4 -->
<div class="fr" style="left:-0.8px;top:1419.4px;width:500.8px;height:444px;"></div>
<div class="bg" style="left:3.5px;top:1454.4px;width:492.3px;height:32px;"></div>
<div class="bg" style="left:3.5px;top:1535.4px;width:492.3px;height:36px;"></div>
<div class="bg" style="left:3.5px;top:1823.4px;width:492.3px;height:36px;"></div>
<div class="bg" style="left:3.5px;top:1607.4px;width:492.3px;height:72px;"></div>
<div class="bg" style="left:3.5px;top:1715.4px;width:492.3px;height:72px;"></div>
<div class="hl dk" style="left:3.5px;top:1453.8px;width:492.3px;height:1px;"></div>
<div class="hl" style="left:3.5px;top:1486.4px;width:492.3px;height:1px;"></div>
<div class="hl" style="left:3.5px;top:1535px;width:492.3px;height:1px;"></div>
<div class="hl" style="left:3.5px;top:1570.8px;width:492.3px;height:1px;"></div>
<div class="hl" style="left:3.5px;top:1606.7px;width:492.3px;height:1px;"></div>
<div class="hl" style="left:3.5px;top:1678.8px;width:492.3px;height:1px;"></div>
<div class="hl" style="left:3.5px;top:1714.9px;width:492.3px;height:1px;"></div>
<div class="hl" style="left:3.5px;top:1786.9px;width:492.3px;height:1px;"></div>
<div class="hl" style="left:3.5px;top:1823.1px;width:492.3px;height:1px;"></div>
<div class="hl" style="left:110.5px;top:1642.9px;width:385.3px;height:1px;"></div>
<div class="hl" style="left:110.5px;top:1751.1px;width:385.3px;height:1px;"></div>
<div class="vl lc" style="left:110.2px;top:1454.8px;width:1px;height:404.6px;"></div>
<div class="c hd" style="left:2.8px;top:1425.2px;width:492.3px;height:30.5px;line-height:30.5px;">Chủ nhật ngày 02-10-2022</div>
<div class="c lb" style="left:3.1px;top:1456.4px;width:107px;height:32px;line-height:32px;">Ký tự</div>
<div class="c lb red" style="left:3.1px;top:1488.4px;width:107px;height:47.2px;line-height:47.2px;">Đặc biệt</div>
<div class="c lb" style="left:3.1px;top:1537.4px;width:107px;height:36px;line-height:36px;">Giải nhất</div>
<div class="c lb" style="left:3.1px;top:1573.4px;width:107px;height:36px;line-height:36px;">Giải nhì</div>
<div class="c lb" style="left:3.1px;top:1609.4px;width:107px;height:72px;line-height:72px;">Giải ba</div>
<div class="c lb" style="left:3.1px;top:1681.4px;width:107px;height:36px;line-height:36px;">Giải tư</div>
<div class="c lb" style="left:3.1px;top:1717.4px;width:107px;height:72px;line-height:72px;">Giải năm</div>
<div class="c lb" style="left:3.1px;top:1789.4px;width:107px;height:36px;line-height:36px;">Giải sáu</div>
<div class="c lb" style="left:3.1px;top:1825.4px;width:107px;height:36px;line-height:36px;">Giải bảy</div>
<div class="c kv" style="left:109.9px;top:1454px;width:385.3px;height:32px;line-height:32px;">15EV-6EV-10EV-3EV-11EV-7EV</div>
<div class="c dbv" style="left:109.8px;top:1487.3px;width:385.3px;height:49px;line-height:49px;">64668</div>
<div class="c n" style="left:109.9px;top:1537px;width:385.3px;height:36px;line-height:36px;">12669</div>
<div class="c n" style="left:109.9px;top:1573px;width:192.65px;height:36px;line-height:36px;">88412</div>
<div class="c n" style="left:302.55px;top:1573px;width:192.65px;height:36px;line-height:36px;">40677</div>
<div class="vl" style="left:302.65px;top:1571.4px;width:1px;height:36px;"></div>
<div class="c n" style="left:109.9px;top:1609px;width:128.43px;height:36px;line-height:36px;">43964</div>
<div class="c n" style="left:238.33px;top:1609px;width:128.43px;height:36px;line-height:36px;">70503</div>
<div class="vl" style="left:238.43px;top:1607.4px;width:1px;height:36px;"></div>
<div class="c n" style="left:366.77px;top:1609px;width:128.43px;height:36px;line-height:36px;">31566</div>
<div class="vl" style="left:366.87px;top:1607.4px;width:1px;height:36px;"></div>
<div class="c n" style="left:109.9px;top:1645px;width:128.43px;height:36px;line-height:36px;">95498</div>
<div class="c n" style="left:238.33px;top:1645px;width:128.43px;height:36px;line-height:36px;">66651</div>
<div class="vl" style="left:238.43px;top:1643.4px;width:1px;height:36px;"></div>
<div class="c n" style="left:366.77px;top:1645px;width:128.43px;height:36px;line-height:36px;">53578</div>
<div class="vl" style="left:366.87px;top:1643.4px;width:1px;height:36px;"></div>
<div class="c n" style="left:109.9px;top:1681px;width:96.33px;height:36px;line-height:36px;">3780</div>
<div class="c n" style="left:206.22px;top:1681px;width:96.33px;height:36px;line-height:36px;">9427</div>
<div class="vl" style="left:206.32px;top:1679.4px;width:1px;height:36px;"></div>
<div class="c n" style="left:302.55px;top:1681px;width:96.33px;height:36px;line-height:36px;">9341</div>
<div class="vl" style="left:302.65px;top:1679.4px;width:1px;height:36px;"></div>
<div class="c n" style="left:398.88px;top:1681px;width:96.33px;height:36px;line-height:36px;">1822</div>
<div class="vl" style="left:398.98px;top:1679.4px;width:1px;height:36px;"></div>
<div class="c n" style="left:109.9px;top:1717px;width:128.43px;height:36px;line-height:36px;">8682</div>
<div class="c n" style="left:238.33px;top:1717px;width:128.43px;height:36px;line-height:36px;">2452</div>
<div class="vl" style="left:238.43px;top:1715.4px;width:1px;height:36px;"></div>
<div class="c n" style="left:366.77px;top:1717px;width:128.43px;height:36px;line-height:36px;">1507</div>
<div class="vl" style="left:366.87px;top:1715.4px;width:1px;height:36px;"></div>
<div class="c n" style="left:109.9px;top:1753px;width:128.43px;height:36px;line-height:36px;">1839</div>
<div class="c n" style="left:238.33px;top:1753px;width:128.43px;height:36px;line-height:36px;">2299</div>
<div class="vl" style="left:238.43px;top:1751.4px;width:1px;height:36px;"></div>
<div class="c n" style="left:366.77px;top:1753px;width:128.43px;height:36px;line-height:36px;">0283</div>
<div class="vl" style="left:366.87px;top:1751.4px;width:1px;height:36px;"></div>
<div class="c n" style="left:109.9px;top:1789px;width:128.43px;height:36px;line-height:36px;">634</div>
<div class="c n" style="left:238.33px;top:1789px;width:128.43px;height:36px;line-height:36px;">766</div>
<div class="vl" style="left:238.43px;top:1787.4px;width:1px;height:36px;"></div>
<div class="c n" style="left:366.77px;top:1789px;width:128.43px;height:36px;line-height:36px;">963</div>
<div class="vl" style="left:366.87px;top:1787.4px;width:1px;height:36px;"></div>
<div class="c n" style="left:109.9px;top:1825px;width:96.33px;height:36px;line-height:36px;">19</div>
<div class="c n" style="left:206.22px;top:1825px;width:96.33px;height:36px;line-height:36px;">51</div>
<div class="vl" style="left:206.32px;top:1823.4px;width:1px;height:36px;"></div>
<div class="c n" style="left:302.55px;top:1825px;width:96.33px;height:36px;line-height:36px;">91</div>
<div class="vl" style="left:302.65px;top:1823.4px;width:1px;height:36px;"></div>
<div class="c n" style="left:398.88px;top:1825px;width:96.33px;height:36px;line-height:36px;">62</div>
<div class="vl" style="left:398.98px;top:1823.4px;width:1px;height:36px;"></div>
<div class="fr" style="left:519.2px;top:1419.4px;width:340px;height:390.4px;"></div>
<div class="hl dk2" style="left:523.5px;top:1456.8px;width:330px;height:1.4px;"></div>
<div class="hl" style="left:523.5px;top:1492.37px;width:330px;height:1px;"></div>
<div class="hl" style="left:523.5px;top:1527.14px;width:330px;height:1px;"></div>
<div class="hl" style="left:523.5px;top:1561.91px;width:330px;height:1px;"></div>
<div class="hl" style="left:523.5px;top:1596.68px;width:330px;height:1px;"></div>
<div class="hl" style="left:523.5px;top:1631.45px;width:330px;height:1px;"></div>
<div class="hl" style="left:523.5px;top:1666.22px;width:330px;height:1px;"></div>
<div class="hl" style="left:523.5px;top:1700.99px;width:330px;height:1px;"></div>
<div class="hl" style="left:523.5px;top:1735.76px;width:330px;height:1px;"></div>
<div class="hl" style="left:523.5px;top:1770.53px;width:330px;height:1px;"></div>
<div class="vl" style="left:592.2px;top:1423.4px;width:1px;height:34px;"></div>
<div class="vl dk2" style="left:592px;top:1457.4px;width:1.4px;height:348.2px;"></div>
<div class="lh" style="left:527px;top:1423px;width:60px;height:34px;line-height:36px;">Đầu</div>
<div class="lh" style="left:595.7px;top:1423px;width:200px;height:34px;line-height:36px;letter-spacing:0.45px;">Lô tô</div>
<div class="c ld" style="left:522.8px;top:1458.9px;width:69.2px;height:34.77px;line-height:35.77px;">0</div>
<div class="lv" style="left:595.5px;top:1458.9px;width:247px;height:34.77px;line-height:35.77px;">03; 07;</div>
<div class="c ld" style="left:522.8px;top:1493.67px;width:69.2px;height:34.77px;line-height:35.77px;">1</div>
<div class="lv" style="left:595.5px;top:1493.67px;width:247px;height:34.77px;line-height:35.77px;">12; 19;</div>
<div class="c ld" style="left:522.8px;top:1528.44px;width:69.2px;height:34.77px;line-height:35.77px;">2</div>
<div class="lv" style="left:595.5px;top:1528.44px;width:247px;height:34.77px;line-height:35.77px;">22; 27;</div>
<div class="c ld" style="left:522.8px;top:1563.21px;width:69.2px;height:34.77px;line-height:35.77px;">3</div>
<div class="lv" style="left:595.5px;top:1563.21px;width:247px;height:34.77px;line-height:35.77px;">34; 39;</div>
<div class="c ld" style="left:522.8px;top:1597.98px;width:69.2px;height:34.77px;line-height:35.77px;">4</div>
<div class="lv" style="left:595.5px;top:1597.98px;width:247px;height:34.77px;line-height:35.77px;">41;</div>
<div class="c ld" style="left:522.8px;top:1632.75px;width:69.2px;height:34.77px;line-height:35.77px;">5</div>
<div class="lv" style="left:595.5px;top:1632.75px;width:247px;height:34.77px;line-height:35.77px;">51; 51; 52;</div>
<div class="c ld" style="left:522.8px;top:1667.52px;width:69.2px;height:34.77px;line-height:35.77px;">6</div>
<div class="lv" style="left:595.5px;top:1667.52px;width:247px;height:34.77px;line-height:35.77px;">62; 63; 64; 66; 66; <b class=r>68</b>; 69;</div>
<div class="c ld" style="left:522.8px;top:1702.29px;width:69.2px;height:34.77px;line-height:35.77px;">7</div>
<div class="lv" style="left:595.5px;top:1702.29px;width:247px;height:34.77px;line-height:35.77px;">77; 78;</div>
<div class="c ld" style="left:522.8px;top:1737.06px;width:69.2px;height:34.77px;line-height:35.77px;">8</div>
<div class="lv" style="left:595.5px;top:1737.06px;width:247px;height:34.77px;line-height:35.77px;">80; 82; 83;</div>
<div class="c ld" style="left:522.8px;top:1771.83px;width:69.2px;height:34.77px;line-height:35.77px;">9</div>
<div class="lv" style="left:595.5px;top:1771.83px;width:247px;height:34.77px;line-height:35.77px;">91; 98; 99;</div>
<div class="bk" style="left:114px;top:1514px;width:96.2px;height:84.4px;line-height:88px;">Bộ</div>
<div class="cy" style="left:255px;top:1586.2px;width:118.7px;height:84.8px;line-height:88.4px;text-indent:2.4px;">Đầu</div>
<div class="bb" style="left:260.4px;top:1675.5px;width:82.8px;height:45.7px;line-height:46.8px;text-indent:-6px;">+</div>
<div class="fr" style="left:-0.8px;top:1878px;width:500.8px;height:444px;"></div>
<div class="fr" style="left:519.2px;top:1878px;width:340px;height:390.4px;"></div>
<div class="vl" style="left:592.2px;top:1882px;width:1px;height:34px;"></div>
<svg class="cv" width="842" height="1888" viewBox="0 0 842 1888"><g fill="none" stroke="#ec3042" stroke-width="3.3" stroke-linecap="round"><path d="M176,241 C165,238 150,234 138,236 C129.5,238 129.5,247 135,256 C138,262 141,264 144,266"/><path d="M175,697.5 C165,694 152,689 143,688.5 C134,688.5 127.5,691 127.7,698 C128,706 134,715 143,724"/><path d="M177,1159 C166,1154 152,1147 141,1145.5 C132,1145.5 129,1151 131,1158 C133,1166 137,1174 140,1180.5"/><path d="M175,1617 C165,1613 153,1608 144,1607 C137,1606.5 132,1609 132.5,1614 C133,1621 138,1630 145.5,1638"/></g><g fill="none" stroke="#ec3042" stroke-width="3.6"><rect x="176" y="230.8" width="23.6" height="44.4"/><rect x="133.1" y="266.7" width="24.9" height="45.5"/><rect x="175.8" y="691" width="22.3" height="40.8"/><rect x="132.8" y="724.8" width="24.2" height="43.8"/><rect x="177.9" y="1146.8" width="22.2" height="43"/><rect x="131.2" y="1181.6" width="26" height="46.2"/><rect x="175.8" y="1606.8" width="24.3" height="41"/><rect x="134.9" y="1638.8" width="23.1" height="45.2"/></g><g fill="none" stroke="#1b4fba" stroke-width="3.6"><rect x="263.9" y="302.6" width="77.5" height="39.3"/><rect x="264.5" y="761.2" width="76.9" height="38.6"/><rect x="262.2" y="1219.2" width="78.7" height="42.2"/><rect x="262.2" y="1677.3" width="79.2" height="42.1"/></g></svg>
</div>
</body></html>
